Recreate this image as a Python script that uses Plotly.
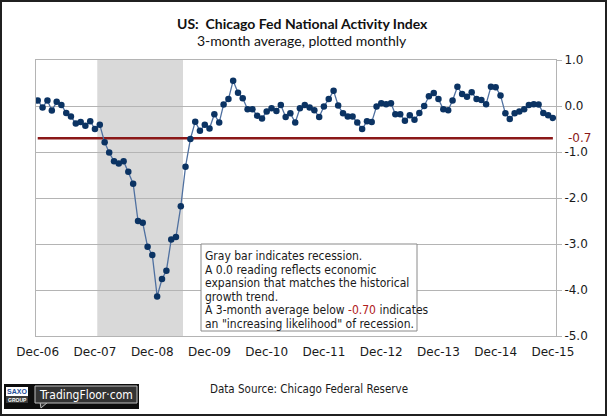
import plotly.graph_objects as go
import pandas as pd

# ---- data ----
start_month = "2006-12-01"
cfnai_3ma = [0.12, -0.03, 0.12, -0.10, 0.09, 0.02, -0.15, -0.23, -0.38, -0.35,
             -0.43, -0.33, -0.50, -0.41, -0.79, -1.01, -1.20, -1.25, -1.20, -1.43,
             -1.69, -2.50, -2.54, -3.06, -3.24, -4.14, -3.76, -3.58, -2.90, -2.85,
             -2.18, -1.32, -0.72, -0.34, -0.54, -0.41, -0.49, -0.18, -0.36, 0.03,
             0.15, 0.55, 0.29, 0.17, -0.07, -0.07, -0.21, -0.27, -0.12, -0.05,
             -0.11, 0.02, -0.24, -0.16, -0.36, -0.05, 0.02, -0.03, -0.09, -0.24,
             -0.01, 0.15, 0.33, 0.01, -0.16, -0.23, -0.23, -0.36, -0.50, -0.33,
             -0.35, -0.01, 0.06, 0.04, 0.06, -0.18, -0.18, -0.32, -0.20, -0.30,
             -0.15, 0.00, 0.21, 0.28, 0.15, -0.07, -0.09, 0.12, 0.42, 0.26,
             0.20, 0.30, 0.15, 0.13, 0.04, 0.42, 0.41, 0.23, -0.16, -0.28,
             -0.16, -0.12, -0.07, 0.02, 0.04, 0.03, -0.15, -0.20, -0.26]
threshold = -0.7
recession_start = "2007-12-16"
recession_end = "2009-06-15"
x_tick_dates = ["2006-12-01", "2007-12-01", "2008-12-01", "2009-12-01", "2010-12-01",
                "2011-12-01", "2012-12-01", "2013-12-01", "2014-12-01", "2015-12-01"]
x_tick_labels = ["Dec-06", "Dec-07", "Dec-08", "Dec-09", "Dec-10",
                 "Dec-11", "Dec-12", "Dec-13", "Dec-14", "Dec-15"]
y_tick_vals = [1, 0, -1, -2, -3, -4, -5]
y_tick_labels = ["1.0", "0.0", "-1.0", "-2.0", "-3.0", "-4.0", "-5.0"]
note_lines = [
    "Gray bar indicates recession.",
    "A 0.0 reading reflects economic",
    "expansion that matches the historical",
    "growth trend.",
    "A 3-month average below <span style='color:#b02020'>-0.70</span> indicates",
    "an \"increasing likelihood\" of recession.",
]

months = pd.date_range(start_month, periods=len(cfnai_3ma), freq="MS")

# ---- layout geometry ----
W, H = 608, 416
L, R, T, B = 36, 52, 60, 80
PW, PH = W - L - R, H - T - B


def px(x):
    return (x - L) / PW


def py(y):
    return (H - B - y) / PH


LABEL_FONT = "DejaVu Sans, Verdana, sans-serif"
TEXT_FONT = "DejaVu Sans Condensed, Liberation Sans, sans-serif"
TITLE_FONT = "Lato, Liberation Sans, sans-serif"
DARK = "#1a1a1a"
RED = "#8b1818"
GRID = "#b4b4b4"

fig = go.Figure()
fig.add_trace(go.Scatter(
    x=months, y=[threshold] * len(months), mode="lines",
    line=dict(color=RED, width=2.5), hoverinfo="skip", showlegend=False))
fig.add_trace(go.Scatter(
    x=months, y=cfnai_3ma, mode="lines+markers",
    line=dict(color="#4f70a0", width=1.3),
    marker=dict(size=6.5, color="#0b3363"),
    showlegend=False))

shapes = [
    dict(type="rect", xref="x", yref="paper", x0=recession_start, x1=recession_end,
         y0=0, y1=1, fillcolor="#d9d9d9", line=dict(width=0), layer="between"),
    # note box
    dict(type="rect", xref="paper", yref="paper", x0=px(201), x1=px(417), y0=py(244), y1=py(331),
         fillcolor="#ffffff", line=dict(color="#8a8a8a", width=1)),
    # outer frame
    dict(type="rect", xref="paper", yref="paper", x0=px(1), x1=px(606), y0=py(1), y1=py(415),
         line=dict(color="#202020", width=2), fillcolor="rgba(0,0,0,0)"),
    # logo
    dict(type="rect", xref="paper", yref="paper", x0=px(4), x1=px(139), y0=py(384), y1=py(409),
         fillcolor="#0d0d0d", line=dict(width=0)),
    dict(type="rect", xref="paper", yref="paper", x0=px(6), x1=px(28), y0=py(387), y1=py(396),
         fillcolor="#ffffff", line=dict(width=0)),
    dict(type="rect", xref="paper", yref="paper", x0=px(6), x1=px(28), y0=py(396), y1=py(403),
         fillcolor="#3a3a3a", line=dict(width=0)),
    dict(type="path", xref="paper", yref="paper",
         path="M %f,%f L %f,%f L %f,%f Z" % (px(40), py(402), px(41), py(408), px(48), py(402)),
         fillcolor="#333333", line=dict(color="#c0c0c0", width=1)),
    dict(type="rect", xref="paper", yref="paper", x0=px(35), x1=px(137), y0=py(386), y1=py(403),
         fillcolor="#333333", line=dict(color="#c0c0c0", width=1)),
]

annotations = [
    dict(text="<b>US:  Chicago Fed National Activity Index</b>", xref="paper", yref="paper",
         x=px(302), y=py(23), xanchor="center", yanchor="middle", showarrow=False,
         font=dict(family=TITLE_FONT, size=14, color="#111111")),
    dict(text="3-month average, plotted monthly", xref="paper", yref="paper",
         x=px(302), y=py(41), xanchor="center", yanchor="middle", showarrow=False,
         font=dict(family=TITLE_FONT, size=14, color="#111111")),
    dict(text="-0.7", xref="paper", yref="y", x=px(566), y=threshold, xanchor="left",
         yanchor="middle", showarrow=False, font=dict(family=LABEL_FONT, size=12, color=RED)),
    dict(text="Data Source: Chicago Federal Reserve", xref="paper", yref="paper",
         x=px(309), y=py(389), xanchor="center", yanchor="middle", showarrow=False,
         font=dict(family=TEXT_FONT, size=11.5, color=DARK)),
    dict(text="<b>SAXO</b>", xref="paper", yref="paper", x=px(17), y=py(391.5),
         xanchor="center", yanchor="middle", showarrow=False,
         font=dict(family="Liberation Sans, sans-serif", size=7, color="#1f4e9a")),
    dict(text="<b>GROUP</b>", xref="paper", yref="paper", x=px(17), y=py(399.5),
         xanchor="center", yanchor="middle", showarrow=False,
         font=dict(family="Liberation Sans, sans-serif", size=5, color="#ffffff")),
    dict(text="TradingFloor·com", xref="paper", yref="paper", x=px(86), y=py(394.5),
         xanchor="center", yanchor="middle", showarrow=False,
         font=dict(family=TEXT_FONT, size=12, color="#ffffff")),
]
for i, line in enumerate(note_lines):
    annotations.append(dict(
        text=line, xref="paper", yref="paper", x=px(203), y=py(256 + 13.6 * i),
        xanchor="left", yanchor="middle", showarrow=False,
        font=dict(family=TEXT_FONT, size=12, color=DARK)))

fig.update_layout(
    width=W, height=H, margin=dict(l=L, r=R, t=T, b=B),
    paper_bgcolor="#ffffff", plot_bgcolor="#ffffff",
    shapes=shapes, annotations=annotations, showlegend=False,
    xaxis=dict(
        type="date", range=["2006-11-20", "2015-12-21"],
        tickvals=x_tick_dates, ticktext=x_tick_labels,
        showgrid=False, zeroline=False, ticks="", ticklabelstandoff=5,
        showline=True, mirror=True, linecolor=GRID, linewidth=1,
        tickfont=dict(family=LABEL_FONT, size=12, color=DARK),
    ),
    yaxis=dict(
        side="right", range=[-5, 1], tickvals=y_tick_vals, ticktext=y_tick_labels,
        showgrid=True, gridcolor=GRID, gridwidth=1, zeroline=False,
        ticks="outside", ticklen=5, tickcolor=GRID,
        showline=True, mirror=True, linecolor=GRID, linewidth=1,
        tickfont=dict(family=LABEL_FONT, size=12, color=DARK),
    ),
)

fig.write_html("out.html", config={"displayModeBar": False},
               post_script="document.body.style.margin='0';document.body.style.overflow='hidden';")
